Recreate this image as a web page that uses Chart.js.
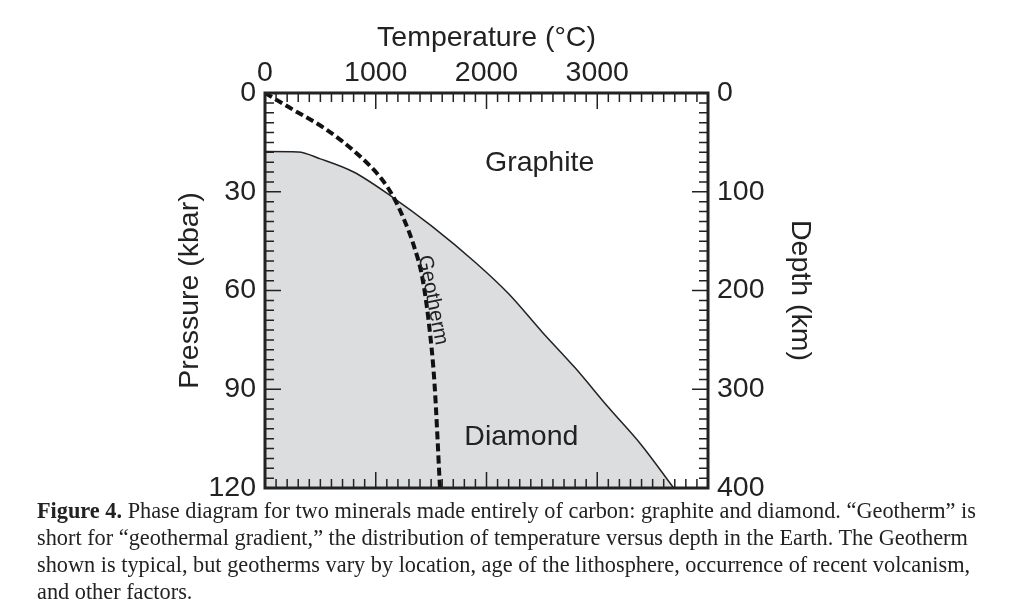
<!DOCTYPE html>
<html>
<head>
<meta charset="utf-8">
<title>Carbon phase diagram</title>
<script src="https://cdn.jsdelivr.net/npm/chart.js@4"></script>
<style>
  body { margin: 0; background: #fff; width: 1024px; height: 610px; overflow: hidden; position: relative; }
  #wrap { position: absolute; left: 0; top: 0; width: 1024px; height: 520px; }
  #caption {
    position: absolute; left: 37px; top: 497px;
    font-family: "Liberation Serif", "Times New Roman", serif;
    font-size: 22.3px; line-height: 27px; color: #222; white-space: nowrap;
  }
</style>
</head>
<body>
<div id="wrap"><canvas id="phaseChart" width="1024" height="520"></canvas></div>
<div id="caption">
  <b>Figure 4.</b> Phase diagram for two minerals made entirely of carbon: graphite and diamond. “Geotherm” is<br>
  short for “geothermal gradient,” the distribution of temperature versus depth in the Earth. The Geotherm<br>
  shown is typical, but geotherms vary by location, age of the lithosphere, occurrence of recent volcanism,<br>
  and other factors.
</div>
<script>
// axis ranges / ticks
const tempTicks = [0, 1000, 2000, 3000];
const pressureTicks = [0, 30, 60, 90, 120];
const depthTicks = [0, 100, 200, 300, 400];

// graphite / diamond boundary (T in °C, P in kbar)
const boundaryT = [0, 300, 500, 800, 1150, 1500, 1900, 2200, 2500, 2800, 3100, 3400, 3690];
const boundaryP = [17.8, 17.9, 20, 24, 31.6, 40.3, 51.5, 61, 72.5, 83.5, 95.5, 107, 120];

// typical geotherm
const geothermT = [0, 250, 550, 850, 1050, 1160, 1250, 1340, 1420, 1480, 1530, 1580];
const geothermP = [0, 5, 11, 19, 26, 31.6, 38, 46, 56, 70, 88, 120];

// text labels placed in data coordinates
const regionLabels = ["Graphite", "Diamond"];
const regionT = [2480, 2315];
const regionP = [21.2, 104.5];
const geothermLabel = { text: "Geotherm", t: 1515, p: 62.9, angle: 79 };

const INK = "#222";
const SANS = "'Liberation Sans', Arial, Helvetica, sans-serif";

function toPoints(xs, ys) {
    return xs.map((x, i) => ({ x: x, y: ys[i] }));
}

// inward tick marks, frame and in-plot labels
const frameAndTicks = {
    id: "frameAndTicks",
    afterDatasetsDraw(chart) {
        const { ctx, chartArea: a, scales } = chart;
        ctx.save();
        ctx.strokeStyle = INK;
        ctx.lineWidth = 1.5;
        ctx.beginPath();
        for (let t = 0; t <= 4000; t += 100) {
            const x = scales.x.getPixelForValue(t);
            const len = (t % 1000 === 0) ? 16 : 9;
            ctx.moveTo(x, a.top); ctx.lineTo(x, a.top + len);
            ctx.moveTo(x, a.bottom); ctx.lineTo(x, a.bottom - len);
        }
        for (let p = 0; p <= 120; p += 3) {
            const y = scales.y.getPixelForValue(p);
            const len = (p % 30 === 0) ? 16 : 9;
            ctx.moveTo(a.left, y); ctx.lineTo(a.left + len, y);
        }
        for (let d = 0; d <= 400; d += 10) {
            const y = scales.y2.getPixelForValue(d);
            const len = (d % 100 === 0) ? 16 : 9;
            ctx.moveTo(a.right, y); ctx.lineTo(a.right - len, y);
        }
        ctx.stroke();

        ctx.lineWidth = 3;
        ctx.strokeRect(a.left, a.top, a.width, a.height);

        ctx.fillStyle = INK;
        ctx.textAlign = "center";
        ctx.textBaseline = "middle";
        ctx.font = "28.5px " + SANS;
        regionLabels.forEach((txt, i) => {
            ctx.fillText(txt, scales.x.getPixelForValue(regionT[i]), scales.y.getPixelForValue(regionP[i]));
        });

        ctx.translate(scales.x.getPixelForValue(geothermLabel.t), scales.y.getPixelForValue(geothermLabel.p));
        ctx.rotate(geothermLabel.angle * Math.PI / 180);
        ctx.font = "20.5px " + SANS;
        ctx.fillText(geothermLabel.text, 0, 0);
        ctx.restore();
    }
};

const tickFont = { family: SANS, size: 28.5 };
const titleFont = { family: SANS, size: 28.5 };
const plainNumber = v => String(v);

new Chart(document.getElementById("phaseChart"), {
    type: "scatter",
    data: {
        datasets: [
            {
                label: "Graphite-diamond boundary",
                data: toPoints(boundaryT, boundaryP),
                showLine: true,
                borderColor: INK,
                borderWidth: 1.5,
                backgroundColor: "#dcdddf",
                fill: { value: 120 },
                pointRadius: 0,
                cubicInterpolationMode: "monotone",
                order: 2,
                yAxisID: "y"
            },
            {
                label: "Geotherm",
                data: toPoints(geothermT, geothermP),
                showLine: true,
                borderColor: "#111",
                borderWidth: 4,
                borderDash: [8, 4],
                fill: false,
                pointRadius: 0,
                cubicInterpolationMode: "monotone",
                order: 1,
                yAxisID: "y"
            }
        ]
    },
    options: {
        responsive: false,
        animation: false,
        layout: { padding: { top: 0, left: 0, right: 0, bottom: 32 } },
        plugins: {
            legend: { display: false },
            tooltip: { enabled: false }
        },
        scales: {
            x: {
                type: "linear",
                position: "top",
                min: 0, max: 4000,
                afterBuildTicks: s => { s.ticks = tempTicks.map(v => ({ value: v })); },
                afterFit: s => { s.height = 93; },
                grid: { display: false, drawTicks: false },
                border: { display: false },
                ticks: { color: INK, font: tickFont, padding: 3, maxRotation: 0, autoSkip: false, callback: plainNumber },
                title: { display: true, text: "Temperature (°C)", color: INK, font: titleFont, padding: { top: 21 } }
            },
            y: {
                type: "linear",
                position: "left",
                reverse: true,
                min: 0, max: 120,
                afterBuildTicks: s => { s.ticks = pressureTicks.map(v => ({ value: v })); },
                afterFit: s => { s.width = 265; },
                grid: { display: false, drawTicks: false },
                border: { display: false },
                ticks: { color: INK, font: tickFont, padding: 9, autoSkip: false, callback: plainNumber },
                title: { display: true, text: "Pressure (kbar)", color: INK, font: titleFont, padding: { top: 173 } }
            },
            y2: {
                type: "linear",
                position: "right",
                reverse: true,
                min: 0, max: 400,
                afterBuildTicks: s => { s.ticks = depthTicks.map(v => ({ value: v })); },
                afterFit: s => { s.width = 316; },
                grid: { display: false, drawTicks: false },
                border: { display: false },
                ticks: { color: INK, font: tickFont, padding: 9, autoSkip: false, callback: plainNumber },
                title: { display: true, text: "Depth (km)", color: INK, font: titleFont, padding: { top: 207 } }
            }
        }
    },
    plugins: [frameAndTicks]
});
</script>
</body>
</html>
